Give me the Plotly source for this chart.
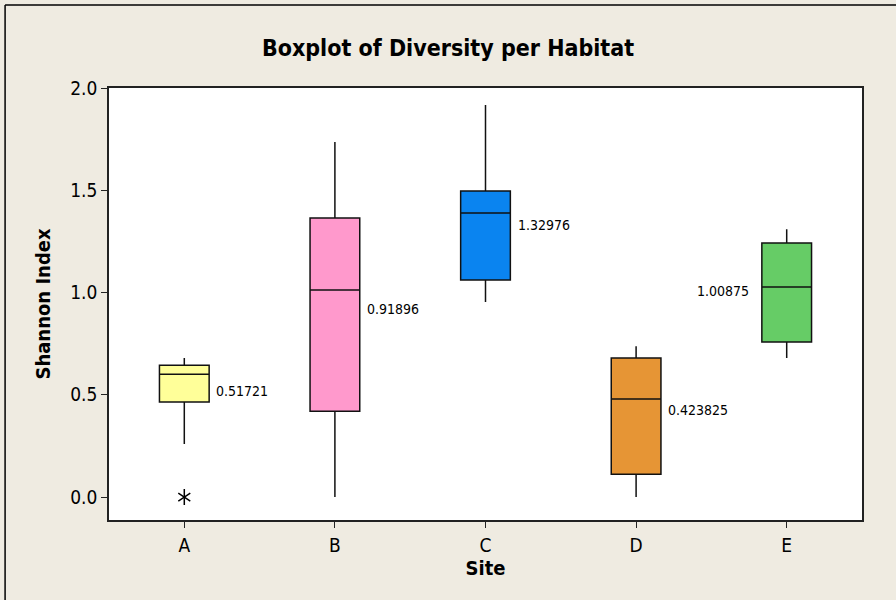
import plotly.graph_objects as go

# Five-number summaries of Shannon diversity per site
sites = ["A", "B", "C", "D", "E"]
lower_whisker = [0.26, 0.0, 0.954, 0.0, 0.68]
q1 = [0.465, 0.42, 1.061, 0.112, 0.758]
median = [0.600, 1.012, 1.389, 0.479, 1.027]
q3 = [0.645, 1.364, 1.496, 0.680, 1.242]
upper_whisker = [0.680, 1.736, 1.917, 0.738, 1.310]
means = [0.51721, 0.91896, 1.32976, 0.423825, 1.00875]
mean_labels = ["0.51721", "0.91896", "1.32976", "0.423825", "1.00875"]
outlier_sites = ["A"]
outlier_values = [0.0]

fill_colors = ["#FFFF99", "#FF99CC", "#0A84F0", "#E69535", "#66CC66"]
label_side = ["right", "right", "right", "right", "left"]

font_family = "DejaVu Sans Condensed, DejaVu Sans"
bg = "#EFEBE1"

fig = go.Figure()

for i, s in enumerate(sites):
    fig.add_trace(go.Box(
        x=[s],
        q1=[q1[i]], median=[median[i]], q3=[q3[i]],
        lowerfence=[lower_whisker[i]], upperfence=[upper_whisker[i]],
        fillcolor=fill_colors[i],
        line=dict(color="#111111", width=1.5),
        width=0.33,
        whiskerwidth=0,
        boxpoints=False,
        hoverinfo="skip",
        showlegend=False,
    ))

# Outliers drawn as six-armed asterisks
for sym in ["y-up-open", "y-down-open"]:
    fig.add_trace(go.Scatter(
        x=outlier_sites, y=outlier_values, mode="markers",
        marker=dict(symbol=sym, size=10, color="black",
                    line=dict(color="black", width=1.5)),
        hoverinfo="skip", showlegend=False,
    ))

# Mean value labels beside each box
for i, s in enumerate(sites):
    right = label_side[i] == "right"
    fig.add_annotation(
        x=s, y=means[i], text=mean_labels[i], showarrow=False,
        xanchor="left" if right else "right", yanchor="middle",
        xshift=30 if right else -36,
        font=dict(family=font_family, size=14, color="black"),
    )

# Outer figure border (top and left edges)
fig.add_shape(type="line", xref="paper", yref="paper",
              x0=-0.138, x1=1.3, y0=1.192, y1=1.192,
              line=dict(color="black", width=1.5))
fig.add_shape(type="line", xref="paper", yref="paper",
              x0=-0.138, x1=-0.138, y0=-0.3, y1=1.192,
              line=dict(color="black", width=1.5))

fig.update_layout(
    width=896, height=600,
    margin=dict(l=109, r=34, t=88, b=80),
    paper_bgcolor=bg,
    plot_bgcolor="white",
    title=dict(text="<b>Boxplot of Diversity per Habitat</b>",
               x=0.5, xanchor="center", y=0.92, yanchor="middle",
               font=dict(family=font_family, size=23, color="black")),
    xaxis=dict(
        type="category", categoryorder="array", categoryarray=sites,
        range=[-0.5, 4.5],
        showline=True, linecolor="#222222", linewidth=1.5, mirror=True,
        ticks="outside", ticklen=6, tickcolor="#222222", tickwidth=1,
        ticklabelstandoff=1,
        showgrid=False, zeroline=False,
        tickfont=dict(family=font_family, size=19, color="black"),
        title=dict(text="<b>Site</b>", standoff=4,
                   font=dict(family=font_family, size=20, color="black")),
    ),
    yaxis=dict(
        range=[-0.112, 2.0],
        tickvals=[0.0, 0.5, 1.0, 1.5, 2.0],
        ticktext=["0.0", "0.5", "1.0", "1.5", "2.0"],
        showline=True, linecolor="#222222", linewidth=1.5, mirror=True,
        ticks="outside", ticklen=6, tickcolor="#222222", tickwidth=1,
        showgrid=False, zeroline=False,
        tickfont=dict(family=font_family, size=19, color="black"),
        title=dict(text="<b>Shannon Index</b>", standoff=14,
                   font=dict(family=font_family, size=20, color="black")),
    ),
)

fig.write_html("out.html")
